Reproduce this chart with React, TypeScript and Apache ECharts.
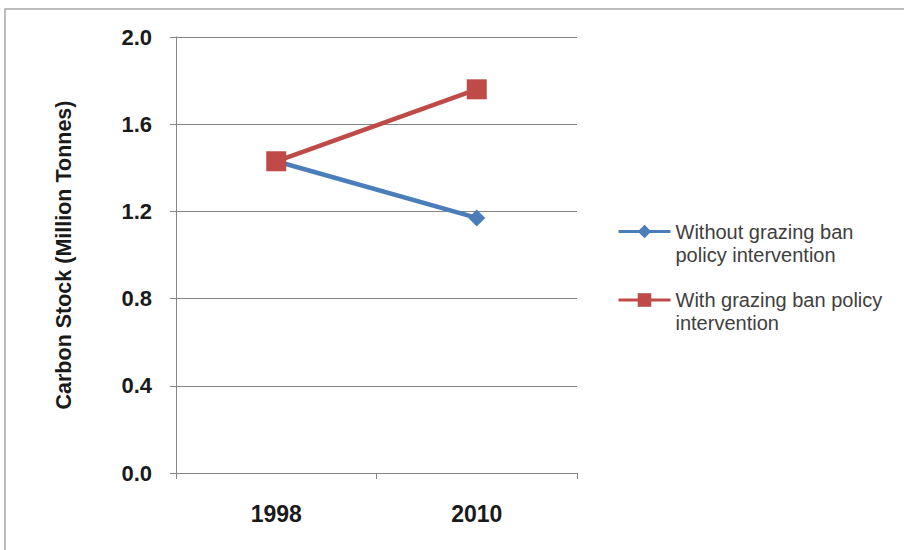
import React, { useEffect, useRef } from "react";
import * as echarts from "echarts";

const categories = ["1998", "2010"];
const withoutBan = [1.43, 1.17];
const withBan = [1.43, 1.76];
const seriesNames = ["Without grazing ban policy intervention", "With grazing ban policy intervention"];
const legendLines: Record<string, string[]> = {
  "Without grazing ban policy intervention": ["Without grazing ban", "policy intervention"],
  "With grazing ban policy intervention": ["With grazing ban policy", "intervention"],
};
const yTicks = { min: 0, max: 2, interval: 0.4 };
const yName = "Carbon Stock (Million Tonnes)";

const FONT = "Liberation Sans";

export default function App() {
  const ref = useRef<HTMLDivElement>(null);
  useEffect(() => {
    const chart = echarts.init(ref.current!, null, { renderer: "svg" });
    chart.setOption({
      animation: false,
      backgroundColor: "#ffffff",
      graphic: [
        {
          type: "rect",
          shape: { x: 5, y: 9, width: 920, height: 560 },
          style: { fill: "none", stroke: "#a8a8a8", lineWidth: 1.5 },
          silent: true,
        },
      ],
      grid: { left: 176, top: 37, right: 327, bottom: 77 },
      legend: {
        orient: "vertical",
        left: 617,
        top: 197,
        padding: 0,
        itemWidth: 52,
        itemHeight: 17,
        itemGap: 1,
        lineStyle: { width: 3 },
        data: seriesNames,
        formatter: (name: string) => {
          const l = legendLines[name] || [name];
          return "{s|}\n{a|" + l.join("}\n{a|") + "}";
        },
        textStyle: {
          fontFamily: FONT,
          fontSize: 20,
          color: "#404040",
          rich: {
            s: { height: 23, lineHeight: 23, fontSize: 20 },
            a: { fontFamily: FONT, fontSize: 20, lineHeight: 23, color: "#404040" },
          },
        },
      },
      xAxis: {
        type: "category",
        data: categories,
        boundaryGap: true,
        axisLine: { lineStyle: { color: "#868686", width: 1 } },
        axisTick: { show: true, length: 6, lineStyle: { color: "#868686" } },
        axisLabel: { fontFamily: FONT, fontSize: 23, fontWeight: "bold", color: "#1a1a1a", margin: 29 },
        splitLine: { show: false },
      },
      yAxis: {
        type: "value",
        min: yTicks.min,
        max: yTicks.max,
        interval: yTicks.interval,
        name: yName,
        nameLocation: "middle",
        nameGap: 101,
        nameRotate: 90,
        nameTextStyle: { fontFamily: FONT, fontSize: 21.5, fontWeight: "bold", color: "#1a1a1a" },
        axisLine: { show: true, lineStyle: { color: "#868686", width: 1 } },
        axisTick: { show: true, length: 6, lineStyle: { color: "#868686" } },
        axisLabel: {
          fontFamily: FONT,
          fontSize: 22,
          fontWeight: "bold",
          color: "#1a1a1a",
          margin: 24,
          formatter: (v: number) => v.toFixed(1),
        },
        splitLine: { show: true, lineStyle: { color: "#868686", width: 1 } },
      },
      series: [
        {
          name: seriesNames[0],
          type: "line",
          data: withoutBan,
          symbol: "diamond",
          symbolSize: 17,
          lineStyle: { color: "#4a7ebb", width: 4.5 },
          itemStyle: { color: "#4a7ebb" },
          z: 2,
        },
        {
          name: seriesNames[1],
          type: "line",
          data: withBan,
          symbol: "rect",
          symbolSize: 20,
          lineStyle: { color: "#be4b48", width: 4.5 },
          itemStyle: { color: "#be4b48" },
          z: 3,
        },
      ],
    });
    return () => chart.dispose();
  }, []);
  return (
    <div
      ref={ref}
      style={{ position: "fixed", left: 0, top: 0, width: 904, height: 550 }}
    />
  );
}
